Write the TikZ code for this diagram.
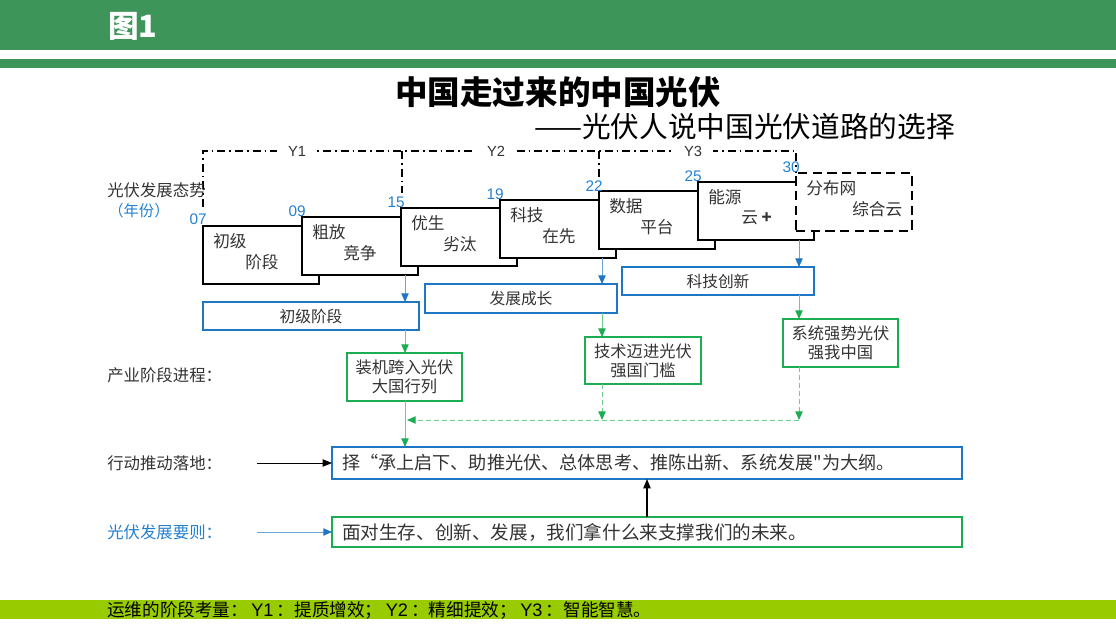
\documentclass[tikz,border=0pt]{standalone}
\usepackage{fontspec}
\setmainfont{Noto Sans CJK SC}
\newfontfamily\latinsans{Liberation Sans}
\newfontfamily\rawcjk{Noto Sans CJK SC}[Ligatures=TeXOff]
\usetikzlibrary{arrows.meta,calc}
\definecolor{hdrgreen}{RGB}{62,149,90}
\definecolor{barlime}{RGB}{153,204,0}
\definecolor{bxblue}{RGB}{30,118,196}
\definecolor{numblue}{RGB}{36,128,206}
\definecolor{bxgreen}{RGB}{28,172,82}
\definecolor{lgreen}{RGB}{110,205,140}
\definecolor{lblue}{RGB}{110,165,215}
\definecolor{txtgray}{RGB}{51,51,51}
\newcommand\mkstep[7]{%
  \node[stepbox,#7] (#1) at (#2,#3) {};
  \node[steptext] (#1a) at ($(#1.north west)+(10,15)$) {#4};
  \node[steptext] (#1b) at ($(#1.north west)+(#6,36)$) {#5};
}
\newcommand\lat[1]{\hspace{2.5pt}{\latinsans\fontsize{13.6}{15}\selectfont #1}\hspace{2.5pt}}
\begin{document}
\begin{tikzpicture}[x=0.75pt,y=-0.75pt,
  stepbox/.style={draw=black,line width=1.5pt,fill=white,minimum width=87pt,minimum height=43.5pt,inner sep=0pt,outer sep=0pt,anchor=north west},
  steptext/.style={anchor=west,inner sep=0pt,font=\fontsize{12.5}{14}\selectfont,text=txtgray},
  yearnum/.style={anchor=east,inner sep=0pt,font=\latinsans\fontsize{11.5}{13}\selectfont,text=numblue},
  bluebox/.style={draw=bxblue,line width=1.5pt,fill=white,inner sep=0pt,outer sep=0pt,font=\fontsize{11.8}{14}\selectfont,text=txtgray},
  greenbox/.style={draw=bxgreen,line width=1.5pt,fill=white,align=center,inner sep=0pt,outer sep=0pt,font=\fontsize{12.2}{14.3}\selectfont,text=txtgray},
  widebox/.style={line width=1.5pt,fill=white,anchor=west,align=left,text width=457.5pt,inner xsep=7.5pt,inner ysep=0pt,outer sep=0pt,font=\fontsize{13.6}{15}\selectfont,text=txtgray},
  sidelabel/.style={anchor=west,inner sep=0pt,font=\fontsize{12.3}{14}\selectfont,text=txtgray},
  ylab/.style={fill=white,inner xsep=8pt,inner ysep=1pt,font=\latinsans\fontsize{11}{13}\selectfont,text=txtgray},
  dashdot/.style={line width=1.1pt,dash pattern=on 6pt off 3pt on 1.2pt off 3pt},
  barrow/.style={draw=lblue,line width=0.75pt,-{Triangle[length=6.5pt,width=5.5pt,color=bxblue]}},
  garrow/.style={draw=lgreen,line width=0.75pt,-{Triangle[length=6.5pt,width=5.5pt,color=bxgreen]}},
  gdash/.style={garrow,dash pattern=on 3.5pt off 2.5pt},
  karrow/.style={draw=black,line width=0.8pt,-{Triangle[length=7pt,width=5.5pt]}}
]
\useasboundingbox (0,0) rectangle (1116,628);
% header and footer bands
\fill[hdrgreen] (0,0) rectangle (1116,50);
\fill[hdrgreen] (0,59) rectangle (1116,68);
\fill[barlime] (0,600) rectangle (1116,619);
\node[anchor=west,inner sep=0pt,text=white,font=\bfseries\fontsize{23}{25}\selectfont] (fig) at (108,26) {图1};
\node[inner sep=0pt,font=\bfseries\fontsize{24.4}{26}\selectfont] (title) at (558,92) {中国走过来的中国光伏};
\node[anchor=east,inner sep=0pt,font=\fontsize{21.5}{24}\selectfont] (subtitle) at (955,127) {——光伏人说中国光伏道路的选择};
\node[anchor=west,inner sep=0pt,font=\fontsize{13.2}{15}\selectfont] (foot) at (107,610) {运维的阶段考量：\lat{Y1}：提质增效；\lat{Y2}：精细提效；\lat{Y3}：智能智慧。};
% dash-dot frame
\coordinate (dda) at (203,207);
\coordinate (ddb) at (203,151);
\coordinate (ddc) at (796,151);
\coordinate (ddd) at (796,173);
\coordinate (dde) at (402,151);
\coordinate (ddf) at (402,193);
\coordinate (ddg) at (599,151);
\coordinate (ddh) at (599,177);
\draw[dashdot] (dda) -- (ddb) -- (ddc) -- (ddd);
\draw[dashdot] (dde) -- (ddf);
\draw[dashdot] (ddg) -- (ddh);
\node[ylab] (y1) at (297,151) {Y1};
\node[ylab] (y2) at (496,151) {Y2};
\node[ylab] (y3) at (693,151) {Y3};
% side labels
\node[sidelabel] (lab1) at (107,190) {光伏发展态势};
\node[sidelabel,text=numblue,font=\fontsize{11.5}{13}\selectfont] (lab1b) at (108,211) {（年份）};
\node[sidelabel] (lab2) at (107,375) {产业阶段进程：};
\node[sidelabel] (lab3) at (107,463) {行动推动落地：};
\node[sidelabel,text=numblue] (lab4) at (107,532) {光伏发展要则：};
% step boxes
\mkstep{s1}{203}{226}{初级}{阶段}{42}{}
\mkstep{s2}{302}{217}{粗放}{竞争}{41}{}
\mkstep{s3}{401}{208}{优生}{劣汰}{42}{}
\mkstep{s4}{500}{200}{科技}{在先}{42}{}
\mkstep{s5}{599}{191}{数据}{平台}{41}{}
\mkstep{s6}{698}{182}{能源}{云 \textbf{+}}{43}{}
\mkstep{s7}{796}{173}{分布网}{综合云}{56}{dash pattern=on 7pt off 4pt}
% year numbers
\node[yearnum] (n1) at ($(s1.north west)+(4,-7)$) {07};
\node[yearnum] (n2) at ($(s2.north west)+(4,-6)$) {09};
\node[yearnum] (n3) at ($(s3.north west)+(4,-6)$) {15};
\node[yearnum] (n4) at ($(s4.north west)+(4,-6)$) {19};
\node[yearnum] (n5) at ($(s5.north west)+(4,-5)$) {22};
\node[yearnum] (n6) at ($(s6.north west)+(4,-6)$) {25};
\node[yearnum] (n7) at ($(s7.north west)+(4,-6)$) {30};
% blue boxes
\node[bluebox,minimum width=162pt,minimum height=21pt] (b1) at (311,316) {初级阶段};
\node[bluebox,minimum width=144pt,minimum height=21.75pt] (b2) at (521,298.5) {发展成长};
\node[bluebox,minimum width=144pt,minimum height=21pt] (b3) at (718,281) {科技创新};
% green boxes
\node[greenbox,minimum width=86.25pt,minimum height=36pt] (g1) at (404.5,377) {装机跨入光伏\\大国行列};
\node[greenbox,minimum width=87pt,minimum height=35.25pt] (g2) at (643,360.5) {技术迈进光伏\\强国门槛};
\node[greenbox,minimum width=86.25pt,minimum height=36pt] (g3) at (840.5,343) {系统强势光伏\\强我中国};
% wide boxes
\node[widebox,draw=bxblue,minimum height=24pt] (d1) at (332,463) {择“承上启下、助推光伏、总体思考、推陈出新、系统发展{\rawcjk"}为大纲。};
\node[widebox,draw=bxgreen,minimum height=22.5pt,font=\fontsize{13.95}{15}\selectfont] (u1) at (332,532) {面对生存、创新、发展，我们拿什么来支撑我们的未来。};
% arrow columns
\coordinate (c1) at (405,0);
\coordinate (c2) at (602,0);
\coordinate (c3) at (799,0);
\coordinate (c4) at (647,0);
\coordinate (j1) at (407,420);
\coordinate (j2) at (602,420);
\coordinate (j3) at (799,420);
\draw[barrow] (s2.south -| c1) -- (b1.north -| c1);
\draw[barrow] (s4.south -| c2) -- (b2.north -| c2);
\draw[barrow] (s6.south -| c3) -- (b3.north -| c3);
\draw[garrow] (b1.south -| c1) -- (g1.north -| c1);
\draw[garrow] (b2.south -| c2) -- (g2.north -| c2);
\draw[garrow] (b3.south -| c3) -- (g3.north -| c3);
\draw[gdash] (g2.south -| c2) -- (j2);
\draw[gdash] (g3.south -| c3) -- (j3);
\draw[gdash] (j3) -- (j1);
\draw[garrow] (g1.south -| c1) -- (d1.north -| c1);
\draw[karrow] (u1.north -| c4) -- (d1.south -| c4);
\coordinate (la1) at (257,463);
\coordinate (la2) at (257,532);
\draw[karrow,line width=0.6pt] (la1) -- (d1.west);
\draw[barrow] (la2) -- (u1.west);
\end{tikzpicture}
\end{document}
